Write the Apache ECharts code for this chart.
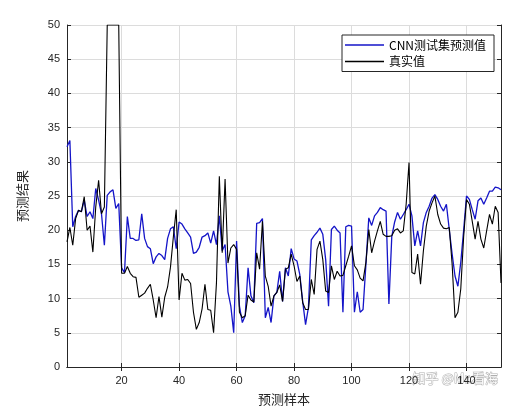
<!DOCTYPE html>
<html>
<head>
<meta charset="utf-8">
<script src="https://cdn.jsdelivr.net/npm/echarts@6/dist/echarts.min.js"></script>
<style>html,body{margin:0;padding:0;background:#fff;}#c{width:515px;height:411px;}</style>
</head>
<body>
<div id="c"></div>
<script>
const predicted = [32.2,33.1,20.5,22,22.9,22.7,24.4,22,22.7,21.7,26.1,24.4,22.4,17.8,25.1,25.6,25.9,23.2,23.9,14.5,
13.8,22,18.8,18.8,18.5,18.6,22.4,18.8,17.6,17.3,15.1,16.1,16.6,16.3,15.7,18.8,20.2,20.5,17.3,21.2,
20.9,20.2,19.6,19,16.6,16.8,17.5,19,19.2,19.6,18.1,19.9,17.9,22.1,17,17.9,11,8.9,5,18.4,
8.9,6.5,7.5,14.5,10.4,9.4,21,21.1,21.7,7.2,8.7,6.5,10.4,10.9,14,9.6,14.5,13.3,17.3,15.8,
15.5,13.5,9.6,6.2,8.7,18.6,19.2,19.7,20.3,19.4,15.7,8.9,20.1,20.6,20,19.6,8,20.5,20.7,20.6,
8,11,8,8.4,15,21.8,20.7,22.1,22.6,23.3,23,22.8,9.2,19.1,21.2,22.6,21.6,22.3,23,23.8,
22.1,17.7,19.9,17.7,21.1,22.6,23.5,24.7,25.2,24.5,23.5,22.8,23.8,20.1,16.5,13.3,11.8,15.3,20,25,
24.5,23,21.6,24.3,24.7,23.8,24.7,25.7,25.7,26.3,26.2,25.9];
const actual = [18.3,20.4,17.8,21.7,22.9,22.7,24.9,20,20.6,16.8,23.4,27.3,22.4,23.4,50,50,50,50,50,13.7,
13.7,14.7,13.7,13.2,13.1,10.2,10.5,10.8,11.5,12.1,9.8,7.2,10.3,7.3,10.2,11.7,14.6,19,23,9.8,
13.7,12.7,12.8,12.2,8,5.5,6.5,8.5,12.1,8.4,8.3,5,12.3,27.9,16.7,27.5,15.2,17.4,17.9,17.2,
8,7.2,7.5,10.5,9.8,9.5,16.7,14.3,21.3,13.3,11.8,8.9,10.4,10.9,12,9.6,14.3,14.5,16.5,14.8,
12.5,13.3,9.4,8.4,8.4,12.8,10.6,17.2,18.4,15.7,11.1,10.9,14.8,12.8,14,13.3,13.4,14.8,16.2,17.7,
14.8,14.2,13,12.6,15.3,20.1,16.7,18.4,19.9,21.3,19.4,19.1,19.1,19.2,20,20.2,19.6,19.9,23.8,29.9,
13.8,13.6,16.5,12.1,17,20.6,22.8,24,25,22.3,20.9,20.3,20.2,20.4,15,7.2,8,11.4,19,24.5,
23.8,21.3,18.7,21.3,18.7,17.4,19.9,22.3,20.9,23.5,22.6,12.3];
const samples = [];
for (let i = 1; i <= predicted.length; i++) samples.push(String(i));
const xTickEvery = 20;
const yMin = 0, yMax = 50, yStep = 5;
const seriesNames = ['CNN测试集预测值', '真实值'];

const font = 'Liberation Sans, Arial, sans-serif';
const cjk = 'Noto Sans CJK SC';
const axisColor = '#262626';
const showTick = (idx, val) => Number(val) % xTickEvery === 0;

const chart = echarts.init(document.getElementById('c'), null, {renderer: 'canvas'});
chart.setOption({
  animation: false,
  backgroundColor: '#fff',
  grid: {left: 67, right: 14, top: 25, bottom: 44, containLabel: false},
  legend: {
    orient: 'vertical', left: 342, top: 35,
    backgroundColor: '#fff', borderColor: '#262626', borderWidth: 1, borderRadius: 0,
    padding: [4, 8, 4, 3], itemWidth: 39, itemHeight: 1.4, itemGap: 4.5,
    icon: 'rect',
    textStyle: {fontFamily: cjk, fontSize: 12, color: '#000', lineHeight: 12},
    data: seriesNames
  },
  xAxis: [{
    type: 'category', data: samples, boundaryGap: false,
    name: '预测样本', nameLocation: 'middle', nameGap: 26,
    nameTextStyle: {fontFamily: cjk, fontSize: 13, color: axisColor},
    axisLine: {lineStyle: {color: axisColor, width: 1}},
    axisTick: {inside: true, length: 4, interval: showTick, lineStyle: {color: axisColor}},
    axisLabel: {interval: showTick, margin: 8, fontFamily: font, fontSize: 11, color: axisColor},
    splitLine: {show: true, interval: showTick, lineStyle: {color: '#dcdcdc', width: 1}}
  }, {
    type: 'category', data: samples, boundaryGap: false, position: 'top',
    axisLine: {lineStyle: {color: axisColor, width: 1}},
    axisTick: {inside: true, length: 4, interval: showTick, lineStyle: {color: axisColor}},
    axisLabel: {show: false}, splitLine: {show: false}
  }],
  yAxis: [{
    type: 'value', min: yMin, max: yMax, interval: yStep,
    name: '预测结果', nameLocation: 'middle', nameGap: 38,
    nameTextStyle: {fontFamily: cjk, fontSize: 13, color: axisColor},
    axisLine: {show: true, lineStyle: {color: axisColor, width: 1}},
    axisTick: {show: true, inside: true, length: 4, lineStyle: {color: axisColor}},
    axisLabel: {margin: 7, fontFamily: font, fontSize: 11, color: axisColor},
    splitLine: {show: true, lineStyle: {color: '#dcdcdc', width: 1}}
  }, {
    type: 'value', min: yMin, max: yMax, interval: yStep, position: 'right',
    axisLine: {show: true, lineStyle: {color: axisColor, width: 1}},
    axisTick: {show: true, inside: true, length: 4, lineStyle: {color: axisColor}},
    axisLabel: {show: false}, splitLine: {show: false}
  }],
  series: [{
    name: seriesNames[0], type: 'line', data: predicted, symbol: 'none', clip: true,
    lineStyle: {color: '#1414c8', width: 1.3}, itemStyle: {color: '#1414c8'}, z: 2
  }, {
    name: seriesNames[1], type: 'line', data: actual, symbol: 'none', clip: true,
    lineStyle: {color: '#000', width: 1.1}, itemStyle: {color: '#000'}, z: 3
  }],
  graphic: [{
    type: 'text', left: 412, top: 371,
    style: {text: '知乎 @Mr.看海', fontFamily: cjk, fontSize: 13, fill: 'rgba(255,255,255,0.95)',
      stroke: 'rgba(120,120,120,0.6)', lineWidth: 1}
  }]
});
</script>
</body>
</html>
